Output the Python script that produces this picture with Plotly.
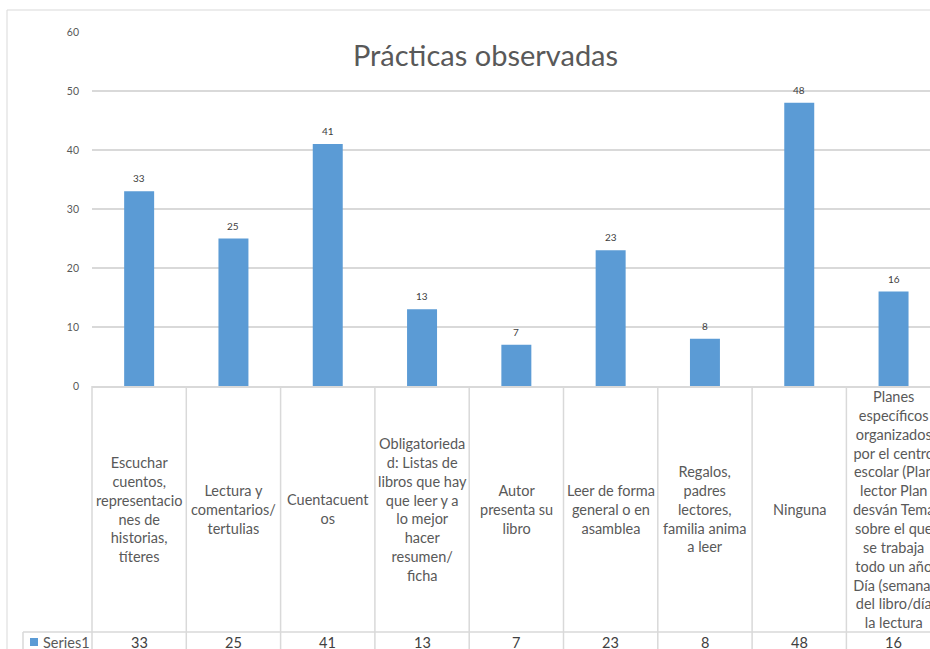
import plotly.graph_objects as go

# --- data ---------------------------------------------------------------
categories = [
    "Escuchar<br>cuentos,<br>representacio<br>nes de<br>historias,<br>títeres",
    "Lectura y<br>comentarios/<br>tertulias",
    "Cuentacuent<br>os",
    "Obligatorieda<br>d: Listas de<br>libros que hay<br>que leer y a<br>lo mejor<br>hacer<br>resumen/<br>ficha",
    "Autor<br>presenta su<br>libro",
    "Leer de forma<br>general o en<br>asamblea",
    "Regalos,<br>padres<br>lectores,<br>familia anima<br>a leer",
    "Ninguna",
    "Planes<br>específicos<br>organizados<br>por el centro<br>escolar (Plan<br>lector Plan<br>desván Tema<br>sobre el que<br>se trabaja<br>todo un año<br>Día (semana)<br>del libro/día<br>la lectura",
]
values = [33, 25, 41, 13, 7, 23, 8, 48, 16]
series_name = "Series1"
title_text = "Prácticas observadas"
y_ticks = [0, 10, 20, 30, 40, 50, 60]

# --- layout geometry (pixels) ------------------------------------------
W, H = 930, 649
LEFT, TOP, AXIS_Y = 92, 32, 386
CAT_PX = 94.3
ROW_SPLIT = 632          # line between label row and value row
PLOT_W = W - LEFT
PLOT_H = AXIS_Y - TOP
x_range = [-0.5, -0.5 + PLOT_W / CAT_PX]

BAR = "#5B9BD5"
GRID = "#D9D9D9"
TXT = "#595959"
FONT = "Lato"


def px_x(p):
    return (p - LEFT) / PLOT_W


def px_y(p):
    return (AXIS_Y - p) / PLOT_H


def data_x(v):
    return (v - x_range[0]) / (x_range[1] - x_range[0])


idx = list(range(len(values)))

fig = go.Figure(
    go.Bar(x=idx, y=values, width=0.318, marker=dict(color=BAR, line=dict(width=0)),
           name=series_name, showlegend=False, hoverinfo="y")
)

shapes = []
# outer chart border
shapes.append(dict(type="rect", xref="paper", yref="paper",
                   x0=px_x(7), x1=px_x(W + 20), y0=px_y(10), y1=px_y(H + 20),
                   line=dict(color=GRID, width=1), layer="below"))
# data table vertical separators
for k in range(len(values)):
    xv = data_x(k - 0.5)
    shapes.append(dict(type="line", xref="paper", yref="paper",
                       x0=xv, x1=xv, y0=0, y1=px_y(H + 10),
                       line=dict(color=GRID, width=1.5)))
# legend-key cell border and row separator
shapes.append(dict(type="line", xref="paper", yref="paper",
                   x0=px_x(23), x1=px_x(23), y0=px_y(ROW_SPLIT), y1=px_y(H + 10),
                   line=dict(color=GRID, width=1.5)))
shapes.append(dict(type="line", xref="paper", yref="paper",
                   x0=px_x(23), x1=px_x(W + 10), y0=px_y(ROW_SPLIT), y1=px_y(ROW_SPLIT),
                   line=dict(color=GRID, width=1.5)))
# legend key swatch
shapes.append(dict(type="rect", xref="paper", yref="paper",
                   x0=px_x(30), x1=px_x(38), y0=px_y(638), y1=px_y(646),
                   fillcolor=BAR, line=dict(width=0)))

annotations = []
# value labels above bars
for i, v in zip(idx, values):
    annotations.append(dict(x=i, y=v, xref="x", yref="y", text=str(v), showarrow=False,
                            yshift=13, font=dict(family=FONT, size=10, color="#404040")))
# category labels in the table
for i, c in zip(idx, categories):
    annotations.append(dict(x=i, y=px_y(509), xref="x", yref="paper", text=c,
                            showarrow=False, align="center", yanchor="middle",
                            font=dict(family=FONT, size=14.5, color=TXT)))
# table value row
for i, v in zip(idx, values):
    annotations.append(dict(x=i, y=px_y(642), xref="x", yref="paper", text=str(v),
                            showarrow=False, yanchor="middle",
                            font=dict(family=FONT, size=14.5, color="#404040")))
annotations.append(dict(x=px_x(41), y=px_y(642), xref="paper", yref="paper",
                        text=series_name, showarrow=False, xanchor="left", yanchor="middle",
                        font=dict(family=FONT, size=14.5, color=TXT)))

fig.update_layout(
    width=W, height=H,
    margin=dict(l=LEFT, r=0, t=TOP, b=H - AXIS_Y, pad=0),
    paper_bgcolor="white", plot_bgcolor="white",
    title=dict(text=title_text, xref="paper", x=px_x(485.5), xanchor="center",
               yref="container", y=1 - 56 / H, yanchor="middle",
               font=dict(family=FONT, size=29, color=TXT)),
    xaxis=dict(range=x_range, showticklabels=False, showgrid=False, zeroline=False,
               showline=True, linecolor=GRID, linewidth=1.5, fixedrange=True),
    yaxis=dict(range=[0, 60], tickvals=y_ticks, showgrid=True, gridcolor=GRID,
               gridwidth=1.5, zeroline=False, showline=False, ticks="",
               ticklabelstandoff=12,
               tickfont=dict(family=FONT, size=10.5, color=TXT), fixedrange=True),
    shapes=shapes, annotations=annotations,
    showlegend=False,
)

fig.write_html("out.html")
